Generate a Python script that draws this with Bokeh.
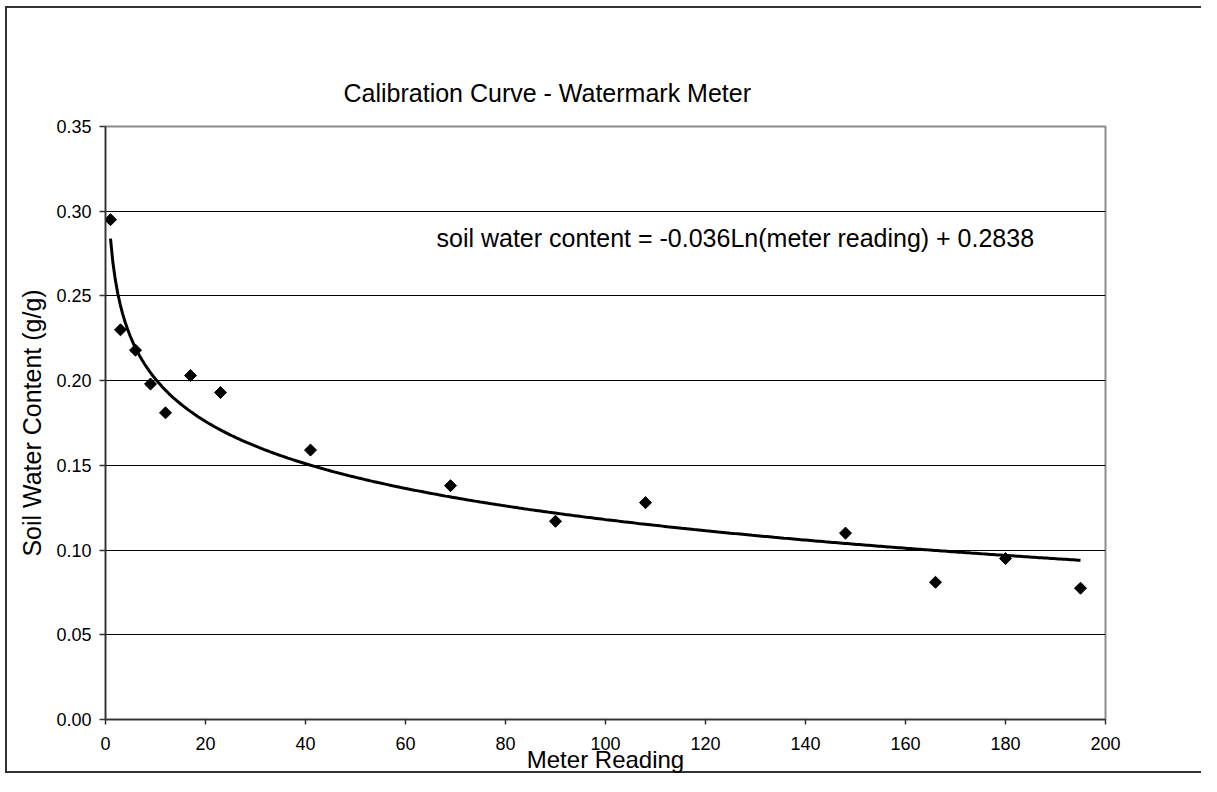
import numpy as np
from bokeh.plotting import figure
from bokeh.models import (Range1d, FixedTicker, NumeralTickFormatter, Label,
                          ColumnDataSource)
from bokeh.embed import file_html
from bokeh.resources import INLINE

# ---- data ----
meter_reading = [1, 3, 6, 9, 12, 17, 23, 41, 69, 90, 108, 148, 166, 180, 195]
soil_water = [0.295, 0.230, 0.218, 0.198, 0.181, 0.203, 0.193, 0.159,
              0.138, 0.117, 0.128, 0.110, 0.081, 0.095, 0.0775]
# logarithmic trendline coefficients shown on the chart
fit_slope = -0.036
fit_intercept = 0.2838
x_ticks = [0, 20, 40, 60, 80, 100, 120, 140, 160, 180, 200]
y_ticks = [0.00, 0.05, 0.10, 0.15, 0.20, 0.25, 0.30, 0.35]

title_text = "Calibration Curve - Watermark Meter"
equation_text = "soil water content = -0.036Ln(meter reading) + 0.2838"
x_title = "Meter Reading"
y_title = "Soil Water Content (g/g)"

FONT = "Liberation Sans"

W, H = 1201, 776
LEFT, TOP, FW, FH = 105, 126, 1000, 593

p = figure(width=W, height=H, output_backend="svg", toolbar_location=None,
           x_range=Range1d(x_ticks[0], x_ticks[-1]),
           y_range=Range1d(y_ticks[0], y_ticks[-1]),
           min_border_left=LEFT, min_border_top=TOP,
           min_border_right=W - LEFT - FW, min_border_bottom=H - TOP - FH,
           background_fill_color="white", border_fill_color=None)

# outer chart border (CSS background lines behind the transparent border area)
p.styles = {
    "background-color": "white",
    "background-image": ("linear-gradient(#333333,#333333), "
                         "linear-gradient(#333333,#333333), "
                         "linear-gradient(#333333,#333333)"),
    "background-size": "2px 767px, 1300px 2px, 1300px 2px",
    "background-position": "5px 6px, 5px 6px, 5px 771px",
    "background-repeat": "no-repeat, no-repeat, no-repeat",
}

p.outline_line_color = "#8c8c8c"
p.outline_line_width = 2

# title
p.title.text = title_text
p.title.text_font = FONT
p.title.text_font_size = "25px"
p.title.text_font_style = "normal"
p.title.text_color = "black"
p.title.align = "left"
p.title.offset = 238
p.title.standoff = 39

# axes
for ax in (p.xaxis[0], p.yaxis[0]):
    ax.axis_line_color = "#333333"
    ax.axis_line_width = 1.5
    ax.major_tick_line_color = "#333333"
    ax.major_tick_line_width = 1.5
    ax.major_tick_in = 0
    ax.minor_tick_line_color = None
    ax.major_label_text_font = FONT
    ax.major_label_text_font_size = "18px"
    ax.major_label_text_color = "black"
    ax.axis_label_text_font = FONT
    ax.axis_label_text_font_style = "normal"
    ax.axis_label_text_color = "black"

p.xaxis.ticker = FixedTicker(ticks=x_ticks)
p.xaxis.major_tick_out = 5
p.xaxis.major_label_standoff = 12
p.xaxis.axis_label = x_title
p.xaxis.axis_label_text_font_size = "24px"
p.xaxis.axis_label_standoff = -7

p.yaxis.ticker = FixedTicker(ticks=y_ticks)
p.yaxis.formatter = NumeralTickFormatter(format="0.00")
p.yaxis.major_tick_out = 6
p.yaxis.major_label_standoff = 8
p.yaxis.axis_label = y_title
p.yaxis.axis_label_text_font_size = "25px"
p.yaxis.axis_label_standoff = 7

p.xgrid.grid_line_color = None
p.ygrid.ticker = FixedTicker(ticks=y_ticks)
p.ygrid.grid_line_color = "black"
p.ygrid.grid_line_width = 1

# trendline
xs = np.linspace(min(meter_reading), max(meter_reading), 400)
ys = fit_slope * np.log(xs) + fit_intercept
p.line(xs, ys, line_color="black", line_width=3)

# data points
src = ColumnDataSource(dict(x=meter_reading, y=soil_water))
p.scatter("x", "y", source=src, marker="square", size=8.5, angle=np.pi / 4,
          fill_color="black", line_color="black")

# equation text
p.add_layout(Label(x=66.2, y=0.2839, text=equation_text, text_font=FONT,
                   text_font_size="25px", text_align="left",
                   text_baseline="middle", text_color="black"))

open("out.html", "w").write(file_html(p, INLINE))
